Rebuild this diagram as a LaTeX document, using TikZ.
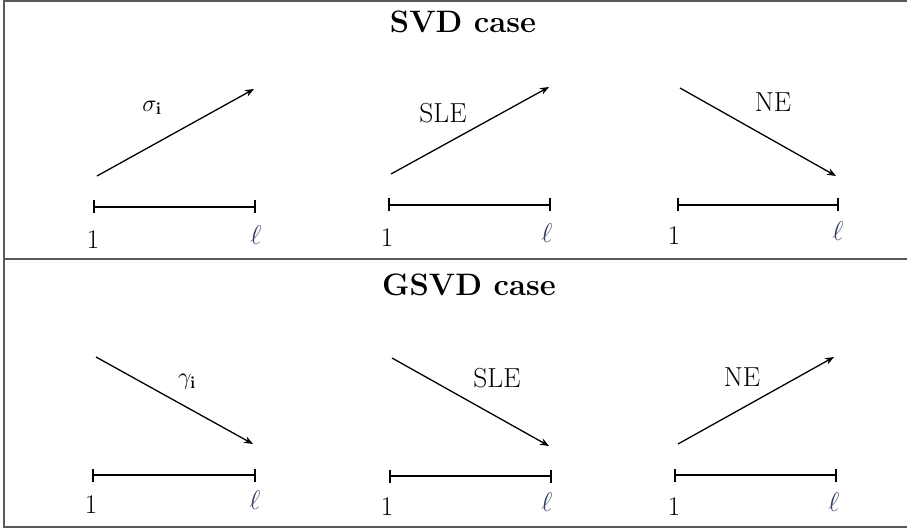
\RequirePackage{fix-cm}
\documentclass[tikz,border=0pt]{standalone}
\usetikzlibrary{arrows.meta}
\definecolor{ellblue}{RGB}{55,65,105}
\definecolor{framegray}{RGB}{90,90,90}
\tikzset{
  trendarrow/.style={line width=1.3pt,-{Stealth[length=9pt,width=7pt]}},
  spanbar/.style={line width=1.6pt,{Bar[width=13pt]}-{Bar[width=13pt]}},
  axlab/.style={font=\fontsize{27}{30}\selectfont,inner sep=0pt},
  elllab/.style={axlab,text=ellblue},
  trendlab/.style={font=\fontsize{27.5}{30}\selectfont,inner sep=0pt},
  mathlab/.style={font=\fontsize{24}{28}\selectfont,inner sep=0pt},
  casetitle/.style={font=\fontsize{31}{36}\selectfont\bfseries,inner sep=0pt},
  boxframe/.style={line width=1.2pt,draw=framegray}
}
\begin{document}
\begin{tikzpicture}[x=1pt,y=-1pt]
\useasboundingbox (0,0) rectangle (907,529);
% frame
\draw[boxframe] (907,1) -- (4,1) -- (4,527) -- (907,527);
\draw[boxframe] (4,259) -- (907,259);
% titles
\node[casetitle] (t1) at (463,22) {SVD case};
\node[casetitle] (t2) at (469,285) {GSVD case};
% ---------- SVD row ----------
\coordinate (a1s) at (97,176); \coordinate (a1e) at (254,89);
\draw[trendarrow] (a1s) -- (a1e);
\node[mathlab] (l1) at (152,108) {$\sigma_{\mathbf{i}}$};
\coordinate (r1a) at (93,207); \coordinate (r1b) at (256,207);
\draw[spanbar] (r1a) -- (r1b);
\node[axlab] (o1) at (93,240) {1};
\node[elllab] (e1) at (256,235) {$\ell$};

\coordinate (a2s) at (391,174); \coordinate (a2e) at (549,87);
\draw[trendarrow] (a2s) -- (a2e);
\node[trendlab] (l2) at (443,113) {SLE};
\coordinate (r2a) at (388,205); \coordinate (r2b) at (551,205);
\draw[spanbar] (r2a) -- (r2b);
\node[axlab] (o2) at (387,238) {1};
\node[elllab] (e2) at (547,233) {$\ell$};

\coordinate (a3s) at (680,88); \coordinate (a3e) at (836,176);
\draw[trendarrow] (a3s) -- (a3e);
\node[trendlab] (l3) at (773,102) {NE};
\coordinate (r3a) at (677,205); \coordinate (r3b) at (839,205);
\draw[spanbar] (r3a) -- (r3b);
\node[axlab] (o3) at (674,236) {1};
\node[elllab] (e3) at (838,231) {$\ell$};
% ---------- GSVD row ----------
\coordinate (a4s) at (96,357); \coordinate (a4e) at (253,444);
\draw[trendarrow] (a4s) -- (a4e);
\node[mathlab] (l4) at (187,382) {$\gamma_{\mathbf{i}}$};
\coordinate (r4a) at (92,475); \coordinate (r4b) at (256,475);
\draw[spanbar] (r4a) -- (r4b);
\node[axlab] (o4) at (91,505) {1};
\node[elllab] (e4) at (255,500) {$\ell$};

\coordinate (a5s) at (392,358); \coordinate (a5e) at (549,446);
\draw[trendarrow] (a5s) -- (a5e);
\node[trendlab] (l5) at (497,378) {SLE};
\coordinate (r5a) at (389,476); \coordinate (r5b) at (552,476);
\draw[spanbar] (r5a) -- (r5b);
\node[axlab] (o5) at (387,507) {1};
\node[elllab] (e5) at (547,502) {$\ell$};

\coordinate (a6s) at (678,444); \coordinate (a6e) at (834,357);
\draw[trendarrow] (a6s) -- (a6e);
\node[trendlab] (l6) at (742,377) {NE};
\coordinate (r6a) at (674,475); \coordinate (r6b) at (837,475);
\draw[spanbar] (r6a) -- (r6b);
\node[axlab] (o6) at (674,507) {1};
\node[elllab] (e6) at (834,502) {$\ell$};
\end{tikzpicture}
\end{document}
